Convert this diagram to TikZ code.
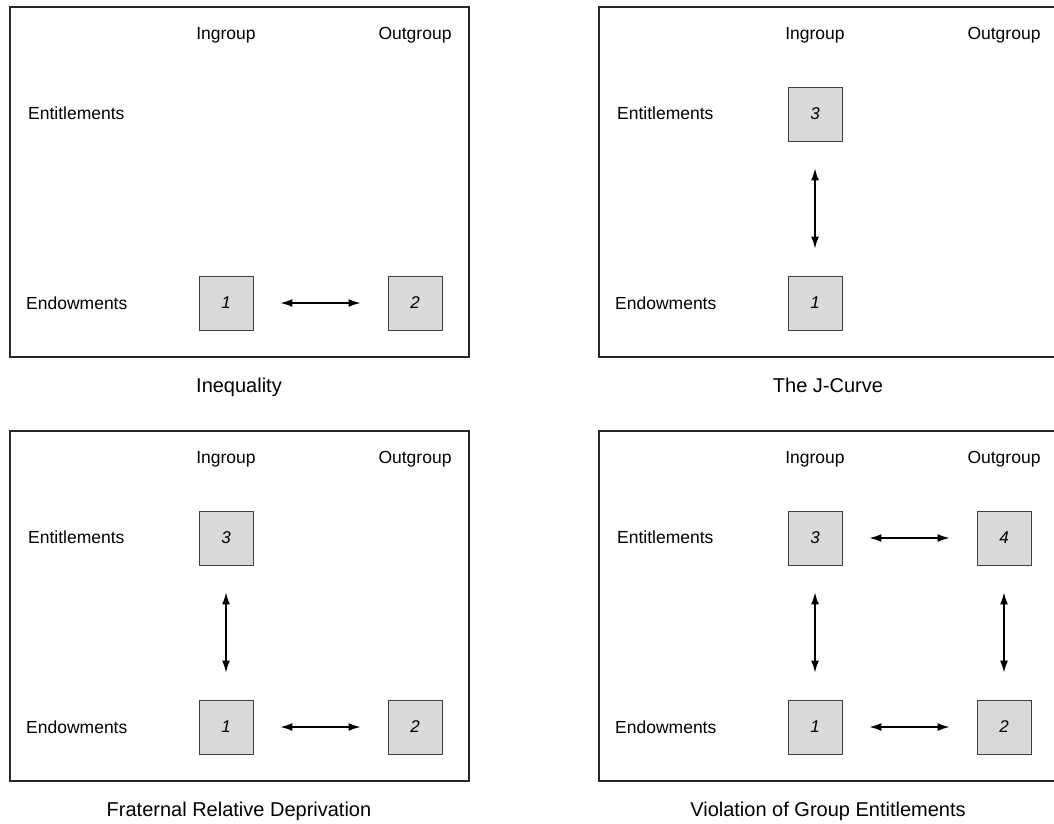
\documentclass[tikz,border=0pt]{standalone}
\usepackage{fontspec}
\setmainfont{Liberation Sans}
\usetikzlibrary{arrows.meta}
\tikzset{
  frame/.style={draw=black!85, line width=1.3pt},
  cell/.style={draw=black!75, fill=black!15, minimum size=54pt, inner sep=0pt, line width=0.9pt, font=\fontsize{17}{20}\selectfont\itshape},
  lbl/.style={inner sep=0pt, anchor=base},
  caption/.style={inner sep=0pt, anchor=base, font=\fontsize{20}{24}\selectfont},
  link/.style={{Latex[length=12pt,width=8pt]}-{Latex[length=12pt,width=8pt]}, line width=1.4pt, shorten >=27pt, shorten <=27pt},
}
\newcommand{\panelbase}[2]{%
  \draw[frame] (10,7) rectangle (469,357);
  \node[lbl] (#1-ing) at (226,39) {Ingroup};
  \node[lbl] (#1-outg) at (415,39) {Outgroup};
  \node[lbl, anchor=base west] (#1-ent) at (28,119) {Entitlements};
  \node[lbl, anchor=base west] (#1-end) at (26,309) {Endowments};
  \node[caption] (#1-cap) at (239,392) {#2};
}
\begin{document}
\begin{tikzpicture}[x=1pt, y=-1pt, font=\fontsize{17.5}{21}\selectfont]
\useasboundingbox (0,0) rectangle (1054,823);
\clip (0,0) rectangle (1054,823);
% Panel A
\begin{scope}
  \panelbase{a}{Inequality}
  \node[cell] (a1) at (226,303) {1};
  \node[cell] (a2) at (415,303) {2};
  \draw[link] (a1) -- (a2);
\end{scope}
% Panel B
\begin{scope}[shift={(589,0)}]
  \panelbase{b}{The J-Curve}
  \node[cell] (b3) at (226,114) {3};
  \node[cell] (b1) at (226,303) {1};
  \draw[link] (b3) -- (b1);
\end{scope}
% Panel C
\begin{scope}[shift={(0,424)}]
  \panelbase{c}{Fraternal Relative Deprivation}
  \node[cell] (c3) at (226,114) {3};
  \node[cell] (c1) at (226,303) {1};
  \node[cell] (c2) at (415,303) {2};
  \draw[link] (c3) -- (c1);
  \draw[link] (c1) -- (c2);
\end{scope}
% Panel D
\begin{scope}[shift={(589,424)}]
  \panelbase{d}{Violation of Group Entitlements}
  \node[cell] (d3) at (226,114) {3};
  \node[cell] (d4) at (415,114) {4};
  \node[cell] (d1) at (226,303) {1};
  \node[cell] (d2) at (415,303) {2};
  \draw[link] (d3) -- (d4);
  \draw[link] (d3) -- (d1);
  \draw[link] (d4) -- (d2);
  \draw[link] (d1) -- (d2);
\end{scope}
\end{tikzpicture}
\end{document}
